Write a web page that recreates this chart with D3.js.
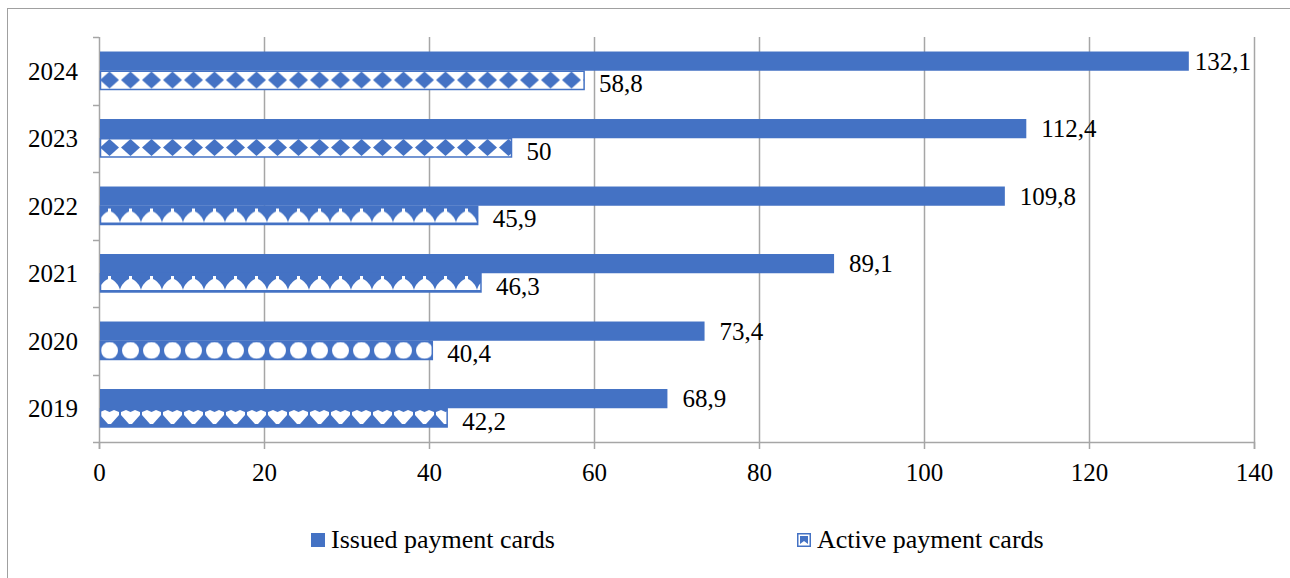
<!DOCTYPE html>
<html>
<head>
<meta charset="utf-8">
<script src="https://cdn.jsdelivr.net/npm/d3@7"></script>
<style>
  body { margin: 0; background: #fff; }
</style>
</head>
<body>
<div id="chart"></div>
<script>
// Data
var years = ['2019', '2020', '2021', '2022', '2023', '2024']
var issued = [68.9, 73.4, 89.1, 109.8, 112.4, 132.1]
var active = [42.2, 40.4, 46.3, 45.9, 50, 58.8]
var seriesNames = ['Issued payment cards', 'Active payment cards']
var xTicks = [0, 20, 40, 60, 80, 100, 120, 140]

var blue = '#4472c4'
var grid = '#a6a6a6'
var font = "'Liberation Serif', 'Times New Roman', serif"
var fontSize = '25px'

// Dimensions
var width = 1290
var height = 578
var margin = { top: 37, right: 36, bottom: 136, left: 99 }
var chartWidth = width - margin.left - margin.right
var chartHeight = height - margin.top - margin.bottom

var svg = d3.select('#chart').append('svg')
  .attr('width', width)
  .attr('height', height)

// Outer frame
svg.append('rect')
  .attr('x', 7.5).attr('y', 8.5)
  .attr('width', width).attr('height', height)
  .attr('fill', 'none').attr('stroke', '#a0a0a0')

// Patterns for active bars (a different motif per year, like the picture fill)
var defs = svg.append('defs')
function makePattern(id, bg, fg, draw) {
  var p = defs.append('pattern')
    .attr('id', id)
    .attr('patternUnits', 'userSpaceOnUse')
    .attr('width', 21).attr('height', 19)
  p.append('rect').attr('width', 21).attr('height', 19).attr('fill', bg)
  draw(p.append('g').attr('fill', fg))
}
// diamonds
makePattern('pat-diamond', '#fff', blue, function (g) {
  g.append('path').attr('d', 'M10.5,1 L20,9.5 L10.5,18 L1,9.5 Z')
})
// bells
makePattern('pat-bell', blue, '#fff', function (g) {
  g.append('path').attr('d', 'M9,3 L12,3 L12,6 C16,8 20,12 21,17 L0,17 C1,12 5,8 9,6 Z')
})
// circles
makePattern('pat-circle', blue, '#fff', function (g) {
  g.append('circle').attr('cx', 10.5).attr('cy', 10).attr('r', 8.5)
})
// hearts / downward shapes
makePattern('pat-heart', blue, '#fff', function (g) {
  g.append('path').attr('d', 'M1,4 L6,2 L10.5,4 L15,2 L20,4 L20,7 L12,16 L9,16 L1,7 Z')
})
var patternFor = {
  '2019': 'pat-heart', '2020': 'pat-circle', '2021': 'pat-bell',
  '2022': 'pat-bell', '2023': 'pat-diamond', '2024': 'pat-diamond'
}

var g = svg.append('g')
  .attr('transform', 'translate(' + margin.left + ',' + margin.top + ')')

// Scales
var xScale = d3.scaleLinear().domain([0, 140]).range([0, chartWidth])
var yScale = d3.scaleBand()
  .domain(years.slice().reverse())
  .range([0, chartHeight])
  .paddingInner(0.43)
  .paddingOuter(0.215)
var subScale = d3.scaleBand()
  .domain([0, 1])
  .range([0, yScale.bandwidth()])

// Gridlines
g.selectAll('.grid')
  .data(xTicks.slice(1))
  .enter().append('line')
  .attr('class', 'grid')
  .attr('x1', function (d) { return Math.round(xScale(d)) + 0.5 })
  .attr('x2', function (d) { return Math.round(xScale(d)) + 0.5 })
  .attr('y1', 0).attr('y2', chartHeight)
  .attr('stroke', grid).attr('stroke-width', 1.5)

// X axis
var xAxis = g.append('g')
  .attr('transform', 'translate(0,' + chartHeight + ')')
  .call(d3.axisBottom(xScale).tickValues(xTicks).tickSize(7).tickPadding(14))
xAxis.select('.domain').attr('stroke', grid).attr('stroke-width', 1.5)
xAxis.selectAll('.tick line').attr('stroke', grid).attr('stroke-width', 1.5)
xAxis.selectAll('text')
  .style('font-family', font)
  .style('font-size', fontSize)
  .attr('fill', '#000')

// Y axis with ticks at category boundaries
var bounds = d3.range(years.length + 1).map(function (i) {
  return i * chartHeight / years.length
})
g.append('line')
  .attr('x1', 0.5).attr('x2', 0.5)
  .attr('y1', 0).attr('y2', chartHeight)
  .attr('stroke', grid).attr('stroke-width', 1.5)
g.selectAll('.ytick')
  .data(bounds)
  .enter().append('line')
  .attr('class', 'ytick')
  .attr('x1', -6).attr('x2', 0)
  .attr('y1', function (d) { return Math.round(d) + 0.5 })
  .attr('y2', function (d) { return Math.round(d) + 0.5 })
  .attr('stroke', grid).attr('stroke-width', 1.5)
g.selectAll('.ylabel')
  .data(years)
  .enter().append('text')
  .attr('class', 'ylabel')
  .attr('x', -21)
  .attr('y', function (d) { return yScale(d) + yScale.bandwidth() / 2 })
  .attr('dy', '0.35em')
  .attr('text-anchor', 'end')
  .style('font-family', font)
  .style('font-size', fontSize)
  .text(function (d) { return d })

// Bars
var rows = years.map(function (y, i) {
  return { year: y, issued: issued[i], active: active[i] }
})
var fmt = function (v) { return String(v).replace('.', ',') }

var row = g.selectAll('.row')
  .data(rows)
  .enter().append('g')
  .attr('class', 'row')
  .attr('transform', function (d) { return 'translate(0,' + yScale(d.year) + ')' })

row.append('rect')
  .attr('x', 1)
  .attr('y', subScale(0))
  .attr('width', function (d) { return xScale(d.issued) - 1 })
  .attr('height', subScale.bandwidth())
  .attr('fill', blue)

row.append('rect')
  .attr('x', 1.5)
  .attr('y', subScale(1) + 0.5)
  .attr('width', function (d) { return xScale(d.active) - 1.5 })
  .attr('height', subScale.bandwidth() - 1)
  .attr('fill', function (d) { return 'url(#' + patternFor[d.year] + ')' })
  .attr('stroke', blue).attr('stroke-width', 1.5)

// Value labels (issued labels are pulled back inside the plot if they overflow)
row.append('text')
  .attr('y', subScale(0) + subScale.bandwidth() / 2)
  .attr('dy', '0.35em')
  .style('font-family', font)
  .style('font-size', fontSize)
  .text(function (d) { return fmt(d.issued) })
  .attr('x', function (d) {
    var w = this.getComputedTextLength()
    return Math.min(xScale(d.issued) + 15, chartWidth - w - 3)
  })

row.append('text')
  .attr('x', function (d) { return xScale(d.active) + 15 })
  .attr('y', subScale(1) + subScale.bandwidth() / 2 + 3)
  .attr('dy', '0.35em')
  .style('font-family', font)
  .style('font-size', fontSize)
  .text(function (d) { return fmt(d.active) })

// Legend
var legendX = [311, 797]
var legend = svg.selectAll('.legend')
  .data(seriesNames)
  .enter().append('g')
  .attr('class', 'legend')
  .attr('transform', function (d, i) { return 'translate(' + legendX[i] + ',533)' })

legend.append('rect')
  .attr('x', function (d, i) { return i === 0 ? 0 : 0.75 })
  .attr('y', function (d, i) { return i === 0 ? 0 : 0.75 })
  .attr('width', function (d, i) { return i === 0 ? 14 : 12.5 })
  .attr('height', function (d, i) { return i === 0 ? 14 : 12.5 })
  .attr('fill', function (d, i) { return i === 0 ? blue : '#fff' })
  .attr('stroke', function (d, i) { return i === 0 ? 'none' : blue })
  .attr('stroke-width', 1.5)
legend.filter(function (d, i) { return i === 1 })
  .append('path')
  .attr('d', 'M3,3 L11,3 L11,11 L7,8 L3,11 Z')
  .attr('fill', blue)

legend.append('text')
  .attr('x', function (d, i) { return i === 0 ? 20 : 20 })
  .attr('y', 15)
  .style('font-family', font)
  .style('font-size', '26px')
  .text(function (d) { return d })
</script>
</body>
</html>
